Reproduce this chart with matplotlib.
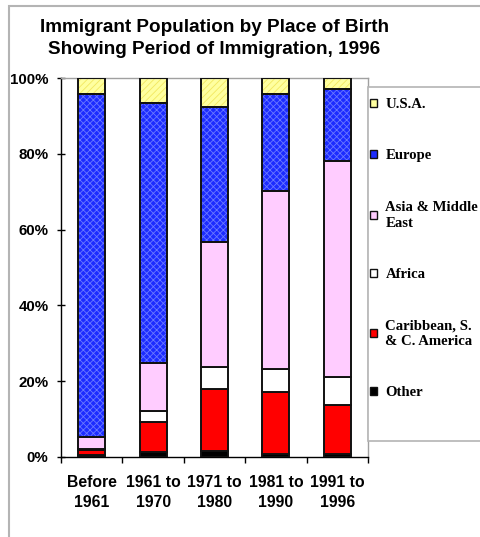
import numpy as np
import matplotlib.pyplot as plt
from matplotlib.patches import Patch, Rectangle

plt.rcParams["font.family"] = ["Liberation Sans", "DejaVu Sans"]
plt.rcParams["hatch.linewidth"] = 0.6

periods = ["Before\n1961", "1961 to\n1970", "1971 to\n1980", "1981 to\n1990", "1991 to\n1996"]
regions = ["Other", "Caribbean, S.\n& C. America", "Africa", "Asia & Middle\nEast", "Europe", "U.S.A."]

# percent share per period (bottom to top)
other = [0.5, 1.3, 1.5, 0.8, 0.8]
caribbean = [1.3, 8.0, 16.4, 16.4, 12.9]
africa = [0.3, 2.9, 5.9, 6.0, 7.3]
asia = [3.2, 12.5, 33.0, 47.0, 57.2]
europe = [90.5, 68.6, 35.6, 25.5, 19.0]
usa = [4.2, 6.7, 7.6, 4.3, 2.8]

series = [other, caribbean, africa, asia, europe, usa]
faces = ["#000000", "#ff0000", "#ffffff", "#ffccff", "#1c2cff", "#ffffa0"]
hatches = [None, None, None, None, "xxxxx", "/////"]
hatch_cols = [None, None, None, None, "#6a78ff", "#f2e860"]

fig = plt.figure(figsize=(4.81, 5.37), dpi=100)
ax = fig.add_axes([61 / 481, 80 / 537, 307 / 481, 379 / 537])

x = np.arange(len(periods))
w = 0.44
bottom = np.zeros(len(periods))
for vals, fc, h, hc in zip(series, faces, hatches, hatch_cols):
    vals = np.array(vals)
    if h:
        ax.bar(x, vals, w, bottom=bottom, color=fc, hatch=h, edgecolor=hc, linewidth=0, zorder=2)
        ax.bar(x, vals, w, bottom=bottom, fill=False, edgecolor="#111111", linewidth=1.4, zorder=3)
    else:
        ax.bar(x, vals, w, bottom=bottom, color=fc, edgecolor="#111111", linewidth=1.4, zorder=3)
    bottom += vals

ax.set_xlim(-0.5, 4.5)
ax.set_ylim(0, 100)
ax.set_yticks(range(0, 101, 20))
ax.set_yticklabels([f"{v}%" for v in range(0, 101, 20)], fontweight="bold", fontsize=10.8)
ax.tick_params(axis="y", direction="inout", length=6, width=1, pad=6)
ax.set_xticks(x)
ax.set_xticklabels(periods, fontweight="bold", fontsize=11.3, linespacing=1.45)
ax.set_xticks(np.arange(-0.5, 5, 1), minor=True)
ax.tick_params(axis="x", which="major", length=0, pad=13)
ax.tick_params(axis="x", which="minor", direction="out", length=4, width=1)

for s in ["left", "bottom"]:
    ax.spines[s].set_linewidth(1)
for s in ["top", "right"]:
    ax.spines[s].set_color("#a0a0a0")
    ax.spines[s].set_linewidth(1)

ax.set_title("Immigrant Population by Place of Birth\nShowing Period of Immigration, 1996",
             fontsize=13.6, fontweight="bold", pad=17, linespacing=1.38)

# chart frame and legend frame
fig.add_artist(Rectangle((9 / 481, -0.2), 2, (537 - 6) / 537 + 0.2, transform=fig.transFigure,
                         fill=False, edgecolor="#b4b4b4", linewidth=1.5))
fig.add_artist(Rectangle((368 / 481, (537 - 441) / 537), 2, 354 / 537, transform=fig.transFigure,
                         facecolor="white", edgecolor="#b4b4b4", linewidth=1.2, zorder=5))

handles = [Patch(facecolor=fc, edgecolor="#111111", linewidth=1.0) for fc in faces]
leg = fig.legend(handles[::-1], regions[::-1], loc="upper left",
                 bbox_to_anchor=(370 / 481, (537 - 98) / 537),
                 frameon=False, handlelength=0.45, handleheight=0.45, handletextpad=0.6,
                 labelspacing=2.6, borderaxespad=0, borderpad=0,
                 prop={"family": "Liberation Serif", "weight": "bold", "size": 10.6})
for t in leg.get_texts():
    t.set_linespacing(1.3)
leg.set_zorder(6)

fig.savefig("out.png", dpi=100)
